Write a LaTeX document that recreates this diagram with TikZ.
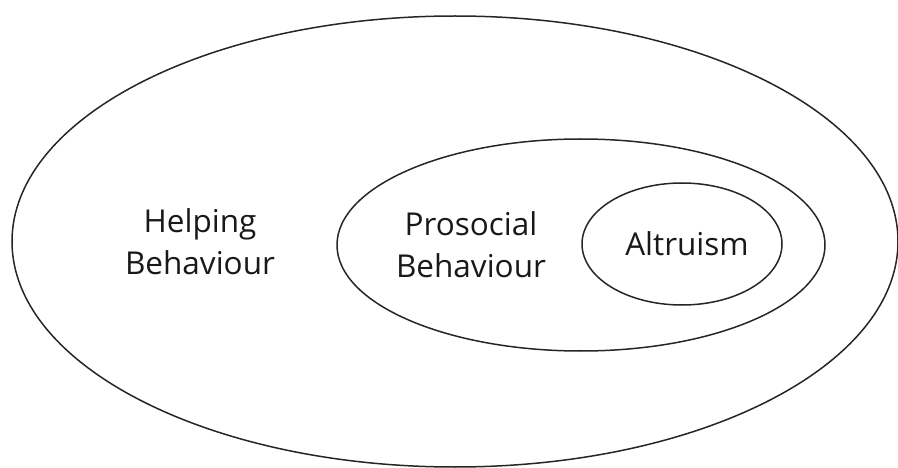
\documentclass[tikz,border=0pt]{standalone}
\usepackage{fontspec}
\setmainfont{Open Sans}
\begin{document}
\begin{tikzpicture}[x=1pt,y=-1pt,
  ring/.style={draw=black!85,line width=1.5pt},
  lbl/.style={font=\fontsize{31.5}{42}\selectfont,align=center,text=black!90,inner sep=0pt}]
\useasboundingbox (0,0) rectangle (898,468);
\draw[ring] (455,241.5) ellipse [x radius=443,y radius=225.5];
\draw[ring] (581,245) ellipse [x radius=244,y radius=106];
\draw[ring] (682,244) ellipse [x radius=100,y radius=61];
\node[lbl] (help) at (200,242) {Helping\\Behaviour};
\node[lbl] (pro) at (471,245) {Prosocial\\Behaviour};
\node[lbl] (alt) at (687,244) {Altruism};
\end{tikzpicture}
\end{document}
